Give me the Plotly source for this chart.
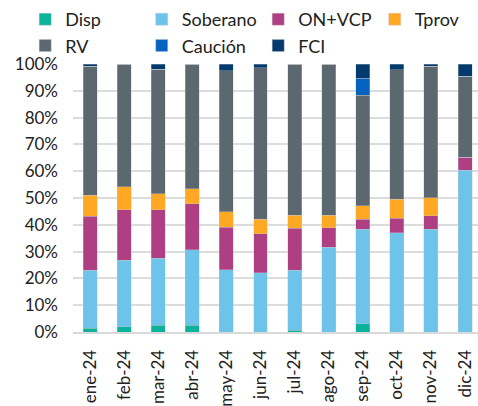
import plotly.graph_objects as go

months = ["ene-24", "feb-24", "mar-24", "abr-24", "may-24", "jun-24",
          "jul-24", "ago-24", "sep-24", "oct-24", "nov-24", "dic-24"]

disp     = [1.4, 2.0, 2.5, 2.5, 0.0, 0.0, 0.6, 0.0, 3.0, 0.0, 0.0, 0.0]
soberano = [21.6, 24.8, 25.0, 28.2, 23.2, 22.1, 22.4, 31.6, 35.3, 37.0, 38.3, 60.4]
on_vcp   = [20.1, 18.9, 18.2, 17.2, 15.8, 14.5, 15.8, 7.3, 3.7, 5.4, 5.1, 4.9]
tprov    = [8.0, 8.5, 5.9, 5.6, 5.8, 5.4, 4.8, 4.6, 5.1, 7.2, 6.7, 0.0]
rv       = [48.0, 45.7, 46.5, 46.4, 52.7, 56.6, 56.3, 56.4, 41.3, 48.2, 49.0, 30.2]
caucion  = [0.0, 0.0, 0.0, 0.0, 0.0, 0.0, 0.0, 0.0, 6.3, 0.0, 0.0, 0.0]
fci      = [0.9, 0.1, 1.9, 0.1, 2.5, 1.4, 0.1, 0.1, 5.3, 2.2, 0.9, 4.5]

series = [
    ("Disp", disp, "#0BB39A"),
    ("Soberano", soberano, "#6DC3EA"),
    ("ON+VCP", on_vcp, "#AD3F82"),
    ("Tprov", tprov, "#FEA824"),
    ("RV", rv, "#5B6870"),
    ("Caución", caucion, "#0563C0"),
    ("FCI", fci, "#043A6E"),
]

fig = go.Figure()
for name, vals, color in series:
    fig.add_trace(go.Bar(
        name=name, x=months, y=vals,
        marker=dict(color=color, line=dict(color="rgba(200,200,200,0.6)", width=0.6)),
    ))

fig.update_layout(
    barmode="stack",
    bargap=0.59,
    width=478, height=406,
    margin=dict(l=73, r=0, t=64, b=74, autoexpand=False),
    paper_bgcolor="white",
    plot_bgcolor="white",
    font=dict(family="Lato", size=17, color="#222222"),
    legend=dict(
        orientation="h",
        xref="paper", yref="paper",
        x=-0.118, xanchor="left",
        y=1.0, yanchor="bottom",
        font=dict(family="Lato", size=18, color="#222222"),
        entrywidth=71.5,
        traceorder="normal",
        bgcolor="rgba(0,0,0,0)",
    ),
)

fig.update_yaxes(
    range=[0, 100], dtick=10, ticksuffix="%",
    showgrid=True, gridcolor="#DCDCDC", gridwidth=1.5,
    zeroline=False, showline=False,
    automargin=False,
    ticklabelstandoff=14,
    tickfont=dict(family="Lato", size=17, color="#222222"),
)
fig.update_xaxes(
    range=[-0.5, 11.38],
    tickangle=-90,
    showline=True, linecolor="#D9D9D9", linewidth=2,
    automargin=False,
    ticklabelstandoff=9,
    tickfont=dict(family="Lato", size=17, color="#222222"),
)

fig.write_html(
    "out.html",
    config={"displayModeBar": False},
    post_script="document.body.style.margin='0';document.body.style.overflow='hidden';",
)
